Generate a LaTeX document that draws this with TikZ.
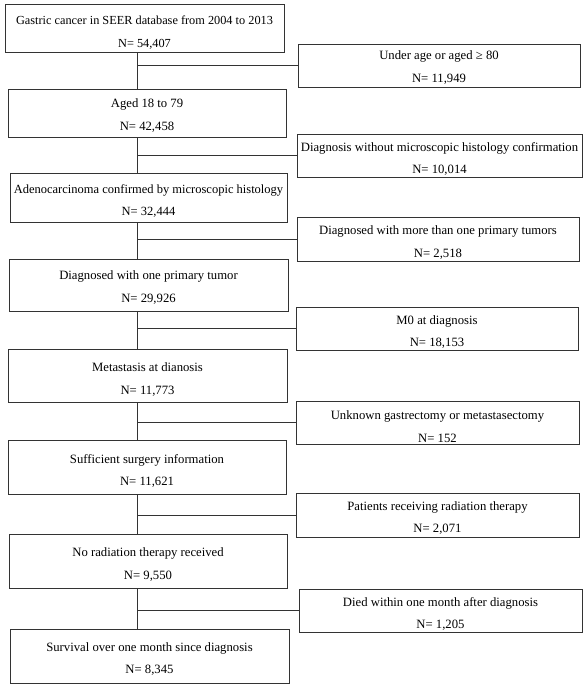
\documentclass[tikz,border=0pt]{standalone}
\usepackage{fontspec}
\setmainfont{Liberation Serif}
\newcommand{\fsz}{12.7}
\newcommand{\tl}[3][2]{\raisebox{-\dimexpr #1pt+3.3pt\relax}[0pt][0pt]{\fontsize{\fsz}{22.5}\selectfont\begin{tabular}{@{}c@{}}#2\\#3\end{tabular}}}
\begin{document}
\begin{tikzpicture}[x=1pt,y=-1pt,
  box/.style={draw=black!80, line width=0.9pt, inner sep=0pt},
  link/.style={draw=black!80, line width=0.9pt}]
\useasboundingbox (0,0) rectangle (585,688);
% left column
\node[box, minimum width=279, minimum height=48] (L1) at (144.5,28) {\renewcommand{\fsz}{12.3}\tl[3]{Gastric cancer in SEER database from 2004 to 2013}{N= 54,407}};
\node[box, minimum width=278, minimum height=48] (L2) at (147,113) {\tl[1]{Aged 18 to 79}{N= 42,458}};
\node[box, minimum width=277, minimum height=49] (L3) at (148.5,197.5) {\renewcommand{\fsz}{12.5}\tl[2]{Adenocarcinoma confirmed by microscopic histology}{N= 32,444}};
\node[box, minimum width=279, minimum height=52] (L4) at (148.5,285) {\tl[1]{Diagnosed with one primary tumor}{N= 29,926}};
\node[box, minimum width=279, minimum height=53] (L5) at (147.5,375.5) {\tl[2.5]{Metastasis at dianosis}{N= 11,773}};
\node[box, minimum width=278, minimum height=54] (L6) at (147,467) {\tl[2.5]{Sufficient surgery information}{N= 11,621}};
\node[box, minimum width=278, minimum height=54] (L7) at (148,561) {\tl[2]{No radiation therapy received}{N= 9,550}};
\node[box, minimum width=279, minimum height=54] (L8) at (149.5,656) {\tl[1.5]{Survival over one month since diagnosis}{N= 8,345}};
% right column
\node[box, minimum width=282, minimum height=43] (R1) at (439,65.5) {\tl[0.5]{Under age or aged ≥ 80}{N= 11,949}};
\node[box, minimum width=285, minimum height=43] (R2) at (439.5,155.5) {\tl[2]{Diagnosis without microscopic histology confirmation}{N= 10,014}};
\node[box, minimum width=282, minimum height=44] (R3) at (438,239) {\tl[2]{Diagnosed with more than one primary tumors}{N= 2,518}};
\node[box, minimum width=282, minimum height=43] (R4) at (437,328.5) {\tl[2]{M0 at diagnosis}{N= 18,153}};
\node[box, minimum width=283, minimum height=43] (R5) at (437.5,422.5) {\tl[3.5]{Unknown gastrectomy or metastasectomy}{N= 152}};
\node[box, minimum width=283, minimum height=44] (R6) at (437.5,515) {\tl[1.5]{Patients receiving radiation therapy}{N= 2,071}};
\node[box, minimum width=283, minimum height=43] (R7) at (440.5,610.5) {\tl[2]{Died within one month after diagnosis}{N= 1,205}};
% trunk
\coordinate (tx) at (137,0);
\foreach \a/\b in {L1/L2,L2/L3,L3/L4,L4/L5,L5/L6,L6/L7,L7/L8}
  \draw[link] (\a.south -| tx) -- (\b.north -| tx);
\foreach \r in {R1,R2,R3,R4,R5,R6,R7}
  \draw[link] (\r.west -| tx) -- (\r.west);
\end{tikzpicture}
\end{document}
